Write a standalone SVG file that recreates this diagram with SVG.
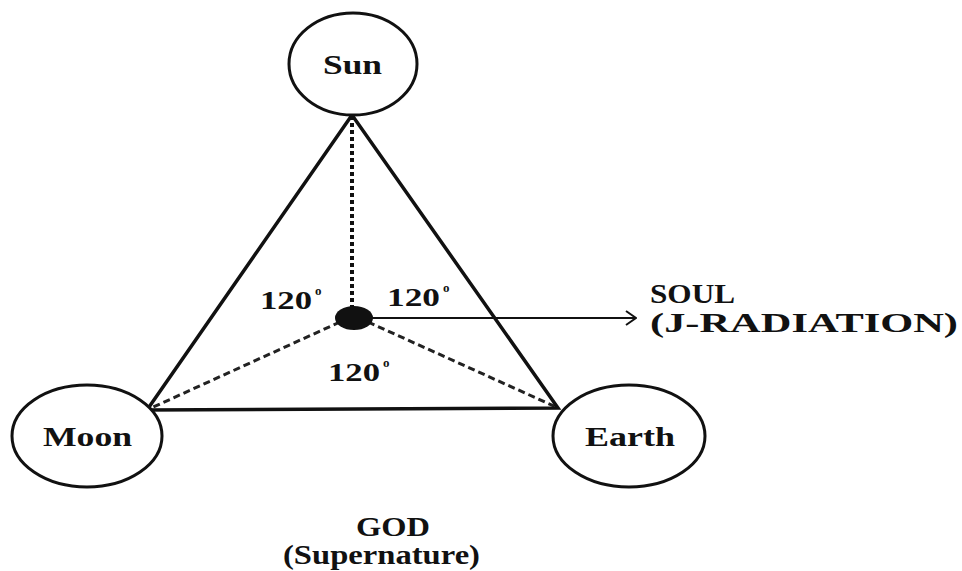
<svg xmlns="http://www.w3.org/2000/svg" width="962" height="571" viewBox="0 0 962 571">
<defs>
<style>
.node{fill:#fff;stroke:#111;stroke-width:3}
.t{font-family:"Liberation Serif","Times New Roman",serif;font-weight:bold;fill:#111}
.edge{stroke:#111;stroke-width:3.5;fill:none;stroke-linecap:round}
.dot{stroke:#111;stroke-width:4;stroke-dasharray:4 3;fill:none}
.dash{stroke:#222;stroke-width:3;stroke-dasharray:7 4;fill:none}
.thin{stroke:#111;stroke-width:1.8;fill:none}
</style>
<marker id="arr" viewBox="0 0 12 16" refX="11" refY="8" markerWidth="12" markerHeight="16" markerUnits="userSpaceOnUse" orient="auto">
<path d="M1,1 L11,8 L1,15" fill="none" stroke="#111" stroke-width="2"/>
</marker>
</defs>
<rect width="962" height="571" fill="#fff"/>
<g id="connectors">
<line class="dot" x1="352" y1="116" x2="352" y2="308"/>
<line class="dash" x1="340" y1="322" x2="149" y2="409"/>
<line class="dash" x1="368" y1="322" x2="556" y2="407"/>
<polygon class="edge" points="352,115 147,410 558,408" stroke-linejoin="miter"/>
<line class="thin" x1="372" y1="318" x2="636" y2="318" marker-end="url(#arr)"/>
</g>
<g id="sun">
<ellipse class="node" cx="353" cy="64" rx="64" ry="51"/>
<text class="t" x="323" y="74" font-size="27" textLength="59" lengthAdjust="spacingAndGlyphs">Sun</text>
</g>
<g id="moon">
<ellipse class="node" cx="87" cy="436" rx="75" ry="51"/>
<text class="t" x="43" y="446" font-size="27" textLength="89" lengthAdjust="spacingAndGlyphs">Moon</text>
</g>
<g id="earth">
<ellipse class="node" cx="629" cy="436" rx="76" ry="51"/>
<text class="t" x="585" y="446" font-size="27" textLength="90" lengthAdjust="spacingAndGlyphs">Earth</text>
</g>
<g id="soul-center">
<ellipse cx="354" cy="318" rx="19" ry="12" fill="#111"/>
</g>
<g id="angles">
<text class="t" x="260" y="309" font-size="25"><tspan textLength="52" lengthAdjust="spacingAndGlyphs">120</tspan><tspan x="315" y="295" font-size="13">o</tspan></text>
<text class="t" x="387" y="306" font-size="25"><tspan textLength="53" lengthAdjust="spacingAndGlyphs">120</tspan><tspan x="443" y="292" font-size="13">o</tspan></text>
<text class="t" x="328" y="381" font-size="25"><tspan textLength="52" lengthAdjust="spacingAndGlyphs">120</tspan><tspan x="383" y="367" font-size="13">o</tspan></text>
</g>
<g id="soul-label">
<text class="t" x="650" y="303" font-size="27" textLength="85" lengthAdjust="spacingAndGlyphs">SOUL</text>
<text class="t" x="650" y="332" font-size="27" textLength="308" lengthAdjust="spacingAndGlyphs">(J-RADIATION)</text>
</g>
<g id="god-label">
<text class="t" x="356" y="536" font-size="28" textLength="74" lengthAdjust="spacingAndGlyphs">GOD</text>
<text class="t" x="283" y="564" font-size="28" textLength="197" lengthAdjust="spacingAndGlyphs">(Supernature)</text>
</g>
</svg>
